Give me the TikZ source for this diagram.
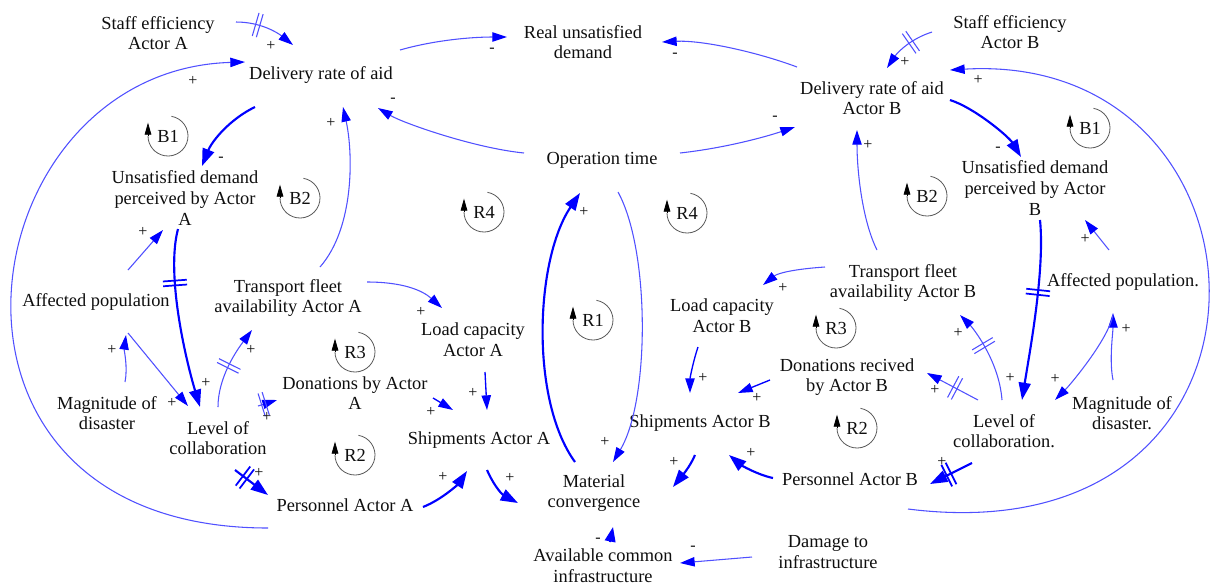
\documentclass[tikz,border=0pt]{standalone}
\usepackage{fontspec}
\setmainfont{Liberation Serif}
\usetikzlibrary{arrows.meta,decorations.markings}

\definecolor{linkblue}{RGB}{0,0,255}
\definecolor{thinblue}{RGB}{80,80,255}
\definecolor{loopgray}{RGB}{90,90,90}
\definecolor{inkc}{RGB}{15,15,15}

\tikzset{
  var/.style={align=center, inner sep=0pt, text=inkc, font=\fontsize{13.8}{15.5}\selectfont},
  sgn/.style={inner sep=0pt, text=inkc, font=\fontsize{12}{12}\selectfont},
  thinlink/.style={draw=thinblue, line width=0.8pt,
    -{Triangle[length=11pt,width=7pt,color=linkblue]}},
  midlink/.style={draw=linkblue, line width=1pt,
    -{Triangle[length=11pt,width=7pt,color=linkblue]}},
  thicklink/.style={draw=linkblue, line width=1.6pt,
    -{Triangle[length=13pt,width=9pt,color=linkblue]}},
  delaythin/.style={postaction={decorate, decoration={markings,
    mark=at position #1 with {\draw[-, draw=thinblue, line width=0.8pt]
      (-1.6pt,-9pt) -- (-1.6pt,9pt) (1.6pt,-9pt) -- (1.6pt,9pt);}}}},
  delaythick/.style={postaction={decorate, decoration={markings,
    mark=at position #1 with {\draw[-, draw=linkblue, line width=1.3pt]
      (-1.8pt,-9pt) -- (-1.8pt,9pt) (1.8pt,-9pt) -- (1.8pt,9pt);}}}},
}

% loop identifier: label inside a gray circular arrow
\newcommand\loopsign[3]{%
  \node[var] (#1) at (#2) {#3};
  \draw[loopgray, line width=0.6pt] ([shift={(80:15pt)}]#1.center)
    arc[start angle=80, end angle=-180, radius=15pt];
  \draw[black, line width=0.6pt, -{Triangle[length=9pt,width=5pt,color=black]}]
    ([shift={(180:15pt)}]#1.center) -- ++(0,10pt);
}

\begin{document}
\begin{tikzpicture}[x=0.75pt, y=-0.75pt]
\useasboundingbox[fill=white] (0,0) rectangle (1210,587);

% ---------- variables ----------
\node[var] (staffA) at (158,33) {Staff efficiency\\Actor A};
\node[var] (delA) at (321,75) {Delivery rate of aid};
\node[var] (realUD) at (583,42) {Real unsatisfied\\demand};
\node[var] (staffB) at (1010,32) {Staff efficiency\\Actor B};
\node[var] (delB) at (872,98) {Delivery rate of aid\\Actor B};
\node[var] (opTime) at (602,160) {Operation time};
\node[var] (unsatA) at (185,198) {Unsatisfied demand\\perceived by Actor\\A};
\node[var] (unsatB) at (1035,188) {Unsatisfied demand\\perceived by Actor\\B};
\node[var] (affA) at (96,302) {Affected population};
\node[var] (transA) at (288,298) {Transport fleet\\availability Actor A};
\node[var] (loadA) at (473,340) {Load capacity\\Actor A};
\node[var] (loadB) at (722,316) {Load capacity\\Actor B};
\node[var] (transB) at (903,283) {Transport fleet\\availability Actor B};
\node[var] (affB) at (1123,282) {Affected population.};
\node[var] (donA) at (355,393) {Donations by Actor\\A};
\node[var] (donB) at (847,377) {Donations recived\\by Actor B};
\node[var] (magA) at (107,413) {Magnitude of\\disaster};
\node[var] (levA) at (218,438) {Level of\\collaboration};
\node[var] (shipA) at (479,440) {Shipments Actor A};
\node[var] (persA) at (345,505) {Personnel Actor A};
\node[var] (matConv) at (594,493) {Material\\convergence};
\node[var] (availInf) at (603,566) {Available common\\infrastructure};
\node[var] (damage) at (828,552) {Damage to\\infrastructure};
\node[var] (shipB) at (700,423) {Shipments Actor B};
\node[var] (persB) at (850,479) {Personnel Actor B};
\node[var] (levB) at (1004,431) {Level of\\collaboration.};
\node[var] (magB) at (1122,413) {Magnitude of\\disaster.};

% ---------- loop identifiers ----------
\loopsign{loopBoneA}{168,136}{B1}
\loopsign{loopBtwoA}{300,198}{B2}
\loopsign{loopRfourA}{484,212}{R4}
\loopsign{loopRfourB}{687,213}{R4}
\loopsign{loopRone}{593,320}{R1}
\loopsign{loopBoneB}{1090,128}{B1}
\loopsign{loopBtwoB}{927,196}{B2}
\loopsign{loopRthreeA}{355,352}{R3}
\loopsign{loopRtwoA}{355,455}{R2}
\loopsign{loopRthreeB}{836,328}{R3}
\loopsign{loopRtwoB}{857,428}{R2}

% ---------- actor A side ----------
\draw[thinlink, delaythin=0.35] ([shift={(78,-11)}]staffA.center) .. controls +(25,0) and +(-15,-12) .. ([shift={(-28,-30)}]delA.center);
\draw[thinlink] ([shift={(-77,23)}]persA.center) .. controls +(-370,0) and +(-280,8) .. ([shift={(-76,-13)}]delA.center);
\draw[thinlink] ([shift={(79,-25)}]delA.center) .. controls +(35,-10) and +(-35,0) .. ([shift={(-76,-5)}]realUD.center);
\draw[thinlink] ([shift={(-78,-7)}]opTime.center) .. controls +(-50,-5) and +(25,15) .. ([shift={(57,33)}]delA.center);
\draw[thicklink] ([shift={(-66,32)}]delA.center) .. controls +(-25,12) and +(10,-25) .. ([shift={(17,-32)}]unsatA.center);
\draw[thinlink] ([shift={(32,-32)}]affA.center) -- ([shift={(-22,32)}]unsatA.center);
\draw[thicklink, delaythick=0.3] ([shift={(-7,31)}]unsatA.center) .. controls +(-12,45) and +(-15,-50) .. ([shift={(-18,-31)}]levA.center);
\draw[thinlink] ([shift={(32,-31)}]transA.center) .. controls +(35,-40) and +(10,45) .. ([shift={(22,32)}]delA.center);
\draw[thinlink] ([shift={(79,-16)}]transA.center) .. controls +(35,0) and +(-20,-18) .. ([shift={(-31,-32)}]loadA.center);
\draw[thinlink] ([shift={(18,-31)}]magA.center) .. controls +(3,-15) and +(-2,15) .. ([shift={(30,33)}]affA.center);
\draw[thinlink] ([shift={(32,31)}]affA.center) -- ([shift={(-30,-32)}]levA.center);
\draw[thinlink, delaythin=0.5] ([shift={(0,-31)}]levA.center) .. controls +(0,-30) and +(-15,20) .. ([shift={(-36,32)}]transA.center);
\draw[thinlink, delaythin=0.3] ([shift={(40,-32)}]levA.center) -- ([shift={(-78,7)}]donA.center);
\draw[thicklink, delaythick=0.3] ([shift={(17,32)}]levA.center) -- ([shift={(-77,-10)}]persA.center);
\draw[midlink] ([shift={(12,32)}]loadA.center) -- ([shift={(8,-30)}]shipA.center);
\draw[midlink] ([shift={(78,5)}]donA.center) -- ([shift={(-26,-30)}]shipA.center);
\draw[thicklink] ([shift={(78,2)}]persA.center) .. controls +(20,-8) and +(-8,12) .. ([shift={(-12,31)}]shipA.center);
\draw[thicklink] ([shift={(8,30)}]shipA.center) .. controls +(8,18) and +(-15,-8) .. ([shift={(-76,10)}]matConv.center);

% ---------- centre ----------
\draw[thicklink] ([shift={(-19,-31)}]matConv.center) .. controls +(-45,-62) and +(-45,67) .. ([shift={(-22,33)}]opTime.center);
\draw[thinlink] ([shift={(16,32)}]opTime.center) .. controls +(32,58) and +(37,-62) .. ([shift={(19,-31)}]matConv.center);
\draw[draw=linkblue, line width=1.4pt, -{Triangle[length=11pt,width=8pt,color=linkblue]}] ([shift={(7,-24)}]availInf.center) -- ([shift={(19,34)}]matConv.center);
\draw[thinlink] ([shift={(-76,5)}]damage.center) -- ([shift={(77,-3)}]availInf.center);

% ---------- actor B side ----------
\draw[thinlink] ([shift={(-75,-31)}]delB.center) .. controls +(-40,-15) and +(40,-2) .. ([shift={(79,0)}]realUD.center);
\draw[thinlink] ([shift={(78,-7)}]opTime.center) .. controls +(45,-5) and +(-30,10) .. ([shift={(-77,29)}]delB.center);
\draw[thicklink] ([shift={(-5,32)}]shipB.center) .. controls +(-5,12) and +(8,-10) .. ([shift={(79,-6)}]matConv.center);
\draw[thicklink] ([shift={(-77,-1)}]persB.center) .. controls +(-15,-3) and +(12,10) .. ([shift={(29,32)}]shipB.center);
\draw[midlink] ([shift={(-24,31)}]loadB.center) .. controls +(-5,15) and +(0,-15) .. ([shift={(-10,-30)}]shipB.center);
\draw[midlink] ([shift={(-77,3)}]donB.center) -- ([shift={(38,-30)}]shipB.center);
\draw[thinlink] ([shift={(-78,-16)}]transB.center) .. controls +(-30,2) and +(15,-12) .. ([shift={(41,-31)}]loadB.center);
\draw[thinlink] ([shift={(-26,-33)}]transB.center) .. controls +(-15,-30) and +(0,40) .. ([shift={(-15,32)}]delB.center);
\draw[thinlink, delaythin=0.4] ([shift={(-78,0)}]staffB.center) .. controls +(-25,8) and +(8,-12) .. ([shift={(15,-30)}]delB.center);
\draw[thinlink] ([shift={(58,30)}]persB.center) .. controls +(402,51) and +(340,-20) .. ([shift={(78,-28)}]delB.center);
\draw[thicklink] ([shift={(78,2)}]delB.center) .. controls +(25,8) and +(-12,-20) .. ([shift={(-14,-31)}]unsatB.center);
\draw[thicklink, delaythick=0.4] ([shift={(5,32)}]unsatB.center) .. controls +(5,50) and +(8,-50) .. ([shift={(18,-31)}]levB.center);
\draw[thinlink] ([shift={(-14,-32)}]affB.center) -- ([shift={(50,32)}]unsatB.center);
\draw[thinlink] ([shift={(-9,-33)}]magB.center) .. controls +(-4,-20) and +(0,20) .. ([shift={(-10,31)}]affB.center);
\draw[thinlink] ([shift={(-10,33)}]affB.center) .. controls +(-5,25) and +(15,-15) .. ([shift={(51,-31)}]levB.center);
\draw[thinlink, delaythin=0.6] ([shift={(-2,-31)}]levB.center) .. controls +(-3,-40) and +(12,12) .. ([shift={(57,32)}]transB.center);
\draw[thinlink, delaythin=0.45] ([shift={(-26,-31)}]levB.center) -- ([shift={(80,-4)}]donB.center);
\draw[thicklink, delaythick=0.55] ([shift={(-32,32)}]levB.center) -- ([shift={(80,5)}]persB.center);

% ---------- link polarities ----------
\foreach \x/\y/\s [count=\i] in {
  271/46/+, 193/81/+, 492/50/-, 675/55/-, 393/100/-, 775/118/-, 221/159/-,
  143/232/+, 206/383/+, 331/123/+, 421/312/+, 112/350/+, 172/403/+, 251/350/+,
  267/417/+, 259/473/+, 473/393/+, 431/412/+, 443/477/+, 510/478/+, 584/212/+,
  605/442/+, 598/540/-, 693/548/-, 674/462/+, 751/453/+, 703/378/+, 757/398/+,
  783/288/+, 868/145/+, 905/62/+, 978/80/+, 998/149/-, 1010/378/+, 1085/239/+,
  1126/329/+, 1055/379/+, 958/333/+, 935/390/+, 942/462/+}
  \node[sgn] (pol\i) at (\x,\y) {\s};
\end{tikzpicture}
\end{document}
